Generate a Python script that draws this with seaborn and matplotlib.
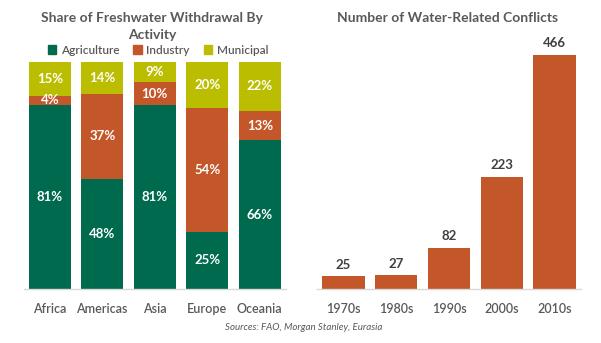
import matplotlib
matplotlib.use("Agg")
import matplotlib.pyplot as plt
import seaborn as sns
import numpy as np
import pandas as pd
from matplotlib.patches import Patch

regions = ["Africa", "Americas", "Asia", "Europe", "Oceania"]
agriculture = [81, 48, 81, 25, 66]
industry = [4, 37, 10, 54, 13]
municipal = [15, 14, 9, 20, 22]

decades = ["1970s", "1980s", "1990s", "2000s", "2010s"]
conflicts = [25, 27, 82, 223, 466]

GREEN = "#006A4E"
ORANGE = "#C4572A"
OLIVE = "#BBBE00"
GRAY = "#595959"
DARK = "#404040"

sns.set_theme(style="white")
plt.rcParams['font.family'] = ['Lato', 'DejaVu Sans']

fig = plt.figure(figsize=(6.01, 3.43), dpi=100)
W, H = 601, 343

def px_axes(x0, y0, x1, y1):
    return fig.add_axes([x0 / W, 1 - y1 / H, (x1 - x0) / W, (y1 - y0) / H])

# ---- Left: 100% stacked ----
ax1 = px_axes(23.5, 61.7, 286, 289)
a = np.array(agriculture, float)
i = np.array(industry, float)
m = np.array(municipal, float)
tot = a + i + m
a_n, i_n, m_n = a / tot * 100, i / tot * 100, m / tot * 100

df = pd.DataFrame({"region": regions, "top": a_n + i_n + m_n, "mid": a_n + i_n, "low": a_n})
sns.barplot(data=df, x="region", y="top", color=OLIVE, saturation=1, width=0.8, ax=ax1, edgecolor="none")
sns.barplot(data=df, x="region", y="mid", color=ORANGE, saturation=1, width=0.8, ax=ax1, edgecolor="none")
sns.barplot(data=df, x="region", y="low", color=GREEN, saturation=1, width=0.8, ax=ax1, edgecolor="none")
ax1.set_xlim(-0.5, 4.5)
ax1.set_ylim(0, 100)

for k in range(len(regions)):
    ax1.text(k, a_n[k] / 2, f"{agriculture[k]}%", ha="center", va="center", color="white",
             fontsize=9.5, fontweight="bold")
    ax1.text(k, a_n[k] + i_n[k] / 2, f"{industry[k]}%", ha="center", va="center", color="white",
             fontsize=9.5, fontweight="bold")
    ax1.text(k, a_n[k] + i_n[k] + m_n[k] / 2, f"{municipal[k]}%", ha="center", va="center",
             color="white", fontsize=9.5, fontweight="bold")

# ---- Right: conflicts ----
ax2 = px_axes(317, 37.5, 581, 289)
sns.barplot(x=decades, y=conflicts, color=ORANGE, saturation=1, width=0.8, ax=ax2, edgecolor="none")
ax2.set_xlim(-0.5, 4.5)
ax2.set_ylim(0, 500)
for k, v in enumerate(conflicts):
    ax2.annotate(str(v), (k, v), xytext=(0, 4), textcoords="offset points", ha="center",
                 va="bottom", color=DARK, fontsize=9.5, fontweight="bold")

for ax in (ax1, ax2):
    ax.set_xlabel("")
    ax.set_ylabel("")
    ax.set_yticks([])
    for s in ("top", "right", "left"):
        ax.spines[s].set_visible(False)
    ax.spines["bottom"].set_color("#D9D9D9")
    ax.spines["bottom"].set_linewidth(1)
    ax.tick_params(axis="x", length=0, pad=10, labelsize=9, colors=GRAY)
    for t in ax.get_xticklabels():
        t.set_fontweight("semibold")

# Titles
fig.text(152 / W, 1 - 18 / H, "Share of Freshwater Withdrawal By", ha="center", va="center",
         fontsize=10, fontweight="bold", color=GRAY)
fig.text(152 / W, 1 - 35 / H, "Activity", ha="center", va="center",
         fontsize=10, fontweight="bold", color=GRAY)
fig.text(448 / W, 1 - 18 / H, "Number of Water-Related Conflicts", ha="center", va="center",
         fontsize=10, fontweight="bold", color=GRAY)

handles = [Patch(color=GREEN, label="Agriculture"), Patch(color=ORANGE, label="Industry"),
           Patch(color=OLIVE, label="Municipal")]
leg = fig.legend(handles=handles, loc="center", bbox_to_anchor=(158 / W, 1 - 50 / H), ncol=3,
                 frameon=False, fontsize=8.5, handlelength=0.7, handleheight=0.7, handletextpad=0.4,
                 columnspacing=1.2, labelcolor=GRAY, borderpad=0)
for t in leg.get_texts():
    t.set_fontweight("semibold")

fig.text(304 / W, 1 - 328 / H, "Sources: FAO, Morgan Stanley, Eurasia", ha="center", va="center",
         fontsize=7, style="italic", color=GRAY)

fig.savefig("out.png", dpi=100)
